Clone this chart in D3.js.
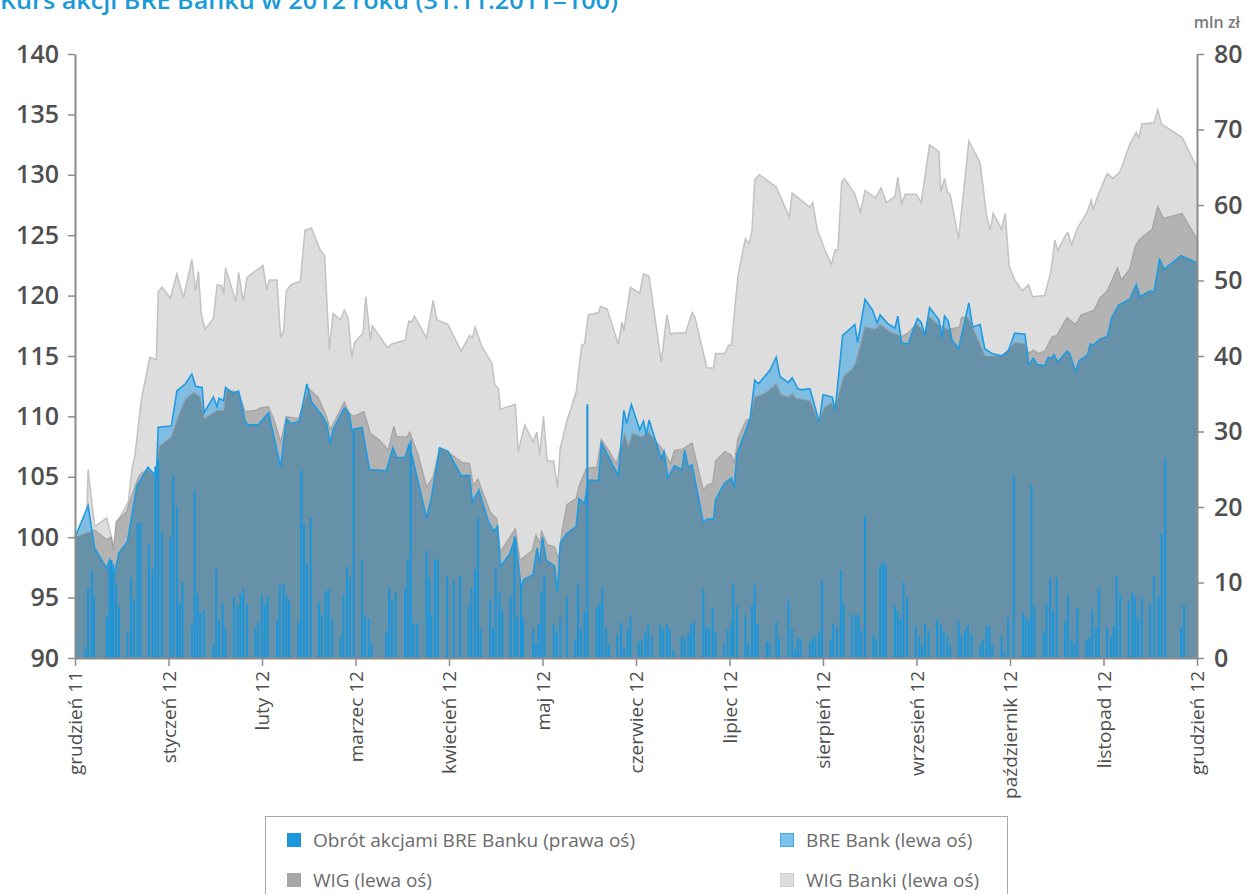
<!DOCTYPE html>
<html>
<head>
<meta charset="utf-8">
<script src="https://cdn.jsdelivr.net/npm/d3@7/dist/d3.min.js"></script>
<style>
body { margin: 0; background: #fff; }
</style>
</head>
<body>
<div id="chart_container"></div>
<script>
var w = 1246, h = 894

var title = "Kurs akcji BRE Banku w 2012 roku (31.11.2011=100)"
var unit_label = "mln zł"
var months = ["grudzień 11", "styczeń 12", "luty 12", "marzec 12", "kwiecień 12", "maj 12",
    "czerwiec 12", "lipiec 12", "sierpień 12", "wrzesień 12", "październik 12", "listopad 12", "grudzień 12"]
var left_ticks = [90, 95, 100, 105, 110, 115, 120, 125, 130, 135, 140]
var right_ticks = [0, 10, 20, 30, 40, 50, 60, 70, 80]
var legend_names = ["Obrót akcjami BRE Banku (prawa oś)", "BRE Bank (lewa oś)", "WIG (lewa oś)", "WIG Banki (lewa oś)"]

// [month since 1 Dec 2011, index value]
var wig_banki = [[0,100.0],[0.12,100.2],[0.14,105.6],[0.21,100.9],[0.34,101.6],[0.39,100.0],[0.41,99.1],[0.46,101.4],
    [0.57,102.9],[0.61,105.7],[0.64,106.7],[0.71,111.4],[0.80,114.9],[0.87,114.7],[0.89,120.3],[0.93,120.7],[1.02,119.8],
    [1.09,121.8],[1.16,119.8],[1.25,123.0],[1.29,120.4],[1.32,122.0],[1.35,118.5],[1.39,117.2],[1.48,118.1],[1.52,120.9],
    [1.57,120.8],[1.59,120.1],[1.61,122.3],[1.72,119.5],[1.75,121.9],[1.80,119.5],[1.84,121.5],[1.94,122.1],[2.01,122.5],
    [2.05,120.5],[2.08,121.3],[2.16,121.3],[2.20,116.5],[2.23,117.1],[2.26,120.4],[2.31,120.9],[2.41,121.2],[2.46,125.4],
    [2.53,125.6],[2.62,123.8],[2.67,123.3],[2.72,115.5],[2.76,118.5],[2.84,118.0],[2.88,118.8],[2.92,118.2],[2.96,114.9],
    [2.99,116.1],[3.08,116.9],[3.11,119.9],[3.16,116.3],[3.18,117.5],[3.34,115.7],[3.39,116.0],[3.53,116.3],[3.57,117.9],
    [3.60,117.8],[3.63,118.3],[3.76,116.5],[3.83,119.6],[3.87,118.0],[3.99,117.6],[4.13,115.4],[4.22,116.7],[4.25,116.5],
    [4.28,117.4],[4.35,115.8],[4.46,114.4],[4.49,112.6],[4.53,112.3],[4.55,110.6],[4.71,111.0],[4.74,107.1],[4.81,109.3],
    [4.90,107.9],[4.94,108.7],[4.97,106.8],[5.01,110.0],[5.05,106.3],[5.12,106.3],[5.16,104.1],[5.19,107.4],[5.26,109.6],
    [5.36,112.0],[5.42,115.9],[5.45,116.0],[5.49,118.4],[5.60,118.6],[5.62,119.1],[5.69,118.9],[5.81,116.0],[5.85,117.8],
    [5.87,117.1],[5.94,120.7],[6.04,120.2],[6.08,121.8],[6.14,121.6],[6.27,114.5],[6.33,118.4],[6.37,116.8],[6.41,116.9],
    [6.53,116.9],[6.60,118.6],[6.63,118.2],[6.76,114.0],[6.83,114.0],[6.85,115.2],[6.95,115.2],[6.99,115.9],[7.02,115.9],
    [7.09,121.6],[7.17,124.7],[7.21,124.3],[7.24,125.3],[7.27,129.6],[7.32,130.0],[7.50,129.0],[7.64,126.5],[7.67,128.5],
    [7.86,127.3],[7.89,127.7],[7.94,125.4],[8.02,123.8],[8.09,122.6],[8.13,123.8],[8.16,123.8],[8.20,129.4],[8.23,129.7],
    [8.34,128.4],[8.40,126.9],[8.45,128.7],[8.56,128.1],[8.62,128.9],[8.68,127.7],[8.77,128.2],[8.80,129.8],[8.84,127.6],
    [8.88,128.4],[9.00,128.4],[9.05,127.7],[9.14,132.5],[9.24,131.9],[9.26,128.6],[9.30,129.7],[9.33,128.6],[9.36,128.4],
    [9.45,124.7],[9.56,132.8],[9.68,131.0],[9.75,126.6],[9.79,125.4],[9.82,126.8],[9.91,125.5],[9.95,126.8],[9.99,122.5],
    [10.05,121.3],[10.13,120.4],[10.20,120.9],[10.24,119.9],[10.37,120.0],[10.44,122.1],[10.48,124.6],[10.51,123.7],
    [10.60,125.1],[10.62,125.2],[10.66,124.2],[10.72,125.6],[10.82,126.8],[10.87,127.9],[10.89,127.1],[10.93,128.1],
    [11.04,130.1],[11.10,129.7],[11.18,130.3],[11.28,132.5],[11.35,133.5],[11.38,133.1],[11.41,134.2],[11.54,134.3],
    [11.58,135.4],[11.62,134.2],[11.84,133.1],[12,130.6]]

var wig = [[0,100.0],[0.21,100.6],[0.34,99.8],[0.39,100.0],[0.41,98.9],[0.44,101.3],[0.55,102.1],[0.59,103.1],[0.68,105.0],
    [0.71,105.3],[0.78,105.6],[0.87,105.1],[0.90,107.5],[1.03,108.3],[1.09,109.7],[1.18,111.4],[1.27,112.0],[1.34,111.6],
    [1.38,109.8],[1.52,110.5],[1.59,110.5],[1.62,112.2],[1.75,112.0],[1.82,110.4],[1.94,110.5],[1.98,110.7],[2.07,110.8],
    [2.13,109.7],[2.20,107.9],[2.26,110.0],[2.39,109.8],[2.50,112.3],[2.60,111.6],[2.69,110.0],[2.73,108.9],[2.88,111.2],
    [2.93,110.3],[2.98,110.0],[3.09,110.4],[3.16,108.6],[3.26,108.0],[3.35,107.2],[3.41,109.2],[3.44,108.3],[3.55,108.3],
    [3.58,108.7],[3.67,106.8],[3.76,104.2],[3.83,105.0],[3.90,107.4],[4.01,106.9],[4.14,106.2],[4.22,106.1],[4.26,104.3],
    [4.31,104.8],[4.44,102.1],[4.51,101.5],[4.55,98.8],[4.71,100.7],[4.76,98.1],[4.89,98.9],[4.93,100.2],[4.97,99.5],
    [4.99,100.5],[5.05,99.4],[5.13,99.2],[5.17,98.2],[5.21,100.6],[5.26,102.7],[5.36,103.2],[5.39,104.2],[5.47,105.7],
    [5.58,105.8],[5.63,108.1],[5.69,107.4],[5.79,106.1],[5.88,108.6],[5.92,107.5],[5.96,108.6],[6.06,108.3],[6.13,108.7],
    [6.26,107.5],[6.30,107.1],[6.37,106.1],[6.41,107.2],[6.50,107.3],[6.54,107.5],[6.60,107.8],[6.72,103.9],[6.76,104.3],
    [6.82,104.5],[6.85,106.3],[6.95,107.1],[7.02,106.8],[7.05,106.1],[7.09,108.2],[7.18,109.7],[7.22,109.8],[7.27,111.6],
    [7.38,111.9],[7.50,112.7],[7.55,111.8],[7.63,111.6],[7.67,111.9],[7.71,111.5],[7.86,111.3],[7.96,109.5],[8.01,110.7],
    [8.09,111.1],[8.13,110.7],[8.22,113.3],[8.31,113.9],[8.35,114.4],[8.45,117.4],[8.56,117.2],[8.61,117.6],[8.72,117.0],
    [8.79,116.8],[8.84,116.6],[8.91,116.9],[9.00,117.7],[9.09,116.9],[9.13,118.3],[9.23,117.6],[9.34,117.2],[9.46,117.4],
    [9.48,118.2],[9.55,118.2],[9.62,117.0],[9.70,115.6],[9.73,115.0],[9.84,115.0],[9.93,115.1],[10.05,116.1],[10.16,116.0],
    [10.20,115.2],[10.25,115.5],[10.30,115.2],[10.37,115.4],[10.45,116.6],[10.50,116.7],[10.61,118.2],[10.70,117.6],
    [10.76,118.4],[10.90,118.8],[10.96,119.8],[11.04,120.4],[11.15,122.3],[11.19,121.3],[11.28,122.2],[11.34,124.1],
    [11.39,124.7],[11.52,125.5],[11.58,127.4],[11.64,126.4],[11.84,126.8],[12,124.7]]

var bre = [[0,100.0],[0.14,102.6],[0.21,99.1],[0.34,97.4],[0.37,98.1],[0.41,96.5],[0.47,98.7],[0.56,99.6],[0.66,104.2],
    [0.78,105.8],[0.87,105.0],[0.89,109.1],[1.03,109.2],[1.09,112.1],[1.18,112.7],[1.25,113.5],[1.29,112.5],[1.36,112.4],
    [1.38,110.3],[1.48,111.6],[1.52,110.8],[1.54,111.5],[1.59,111.3],[1.61,112.4],[1.69,111.9],[1.75,112.1],[1.82,109.6],
    [1.85,109.3],[1.96,109.3],[2.07,110.3],[2.20,105.8],[2.26,109.8],[2.31,109.4],[2.40,109.6],[2.48,112.7],[2.53,111.2],
    [2.64,110.1],[2.69,109.4],[2.73,107.8],[2.76,108.9],[2.88,110.7],[2.93,110.3],[2.96,108.9],[3.07,109.1],[3.15,105.6],
    [3.33,105.5],[3.40,107.4],[3.44,106.6],[3.53,106.6],[3.57,107.6],[3.60,106.9],[3.76,101.6],[3.81,103.2],[3.90,107.4],
    [3.99,107.1],[4.13,105.1],[4.22,105.1],[4.25,102.9],[4.32,103.9],[4.42,101.3],[4.48,100.5],[4.52,100.9],[4.55,97.6],
    [4.65,98.6],[4.71,100.0],[4.77,95.8],[4.80,96.5],[4.90,96.9],[4.94,99.1],[4.97,97.9],[5.00,100.0],[5.04,98.1],
    [5.13,97.6],[5.16,95.4],[5.19,99.5],[5.26,100.3],[5.36,100.9],[5.39,103.2],[5.45,102.8],[5.49,104.7],[5.60,104.7],
    [5.63,107.8],[5.69,106.9],[5.81,105.1],[5.87,110.5],[5.90,109.4],[5.95,111.0],[6.04,108.9],[6.08,109.6],[6.11,108.5],
    [6.14,109.7],[6.27,106.5],[6.30,107.1],[6.34,104.9],[6.41,105.9],[6.49,105.6],[6.52,107.2],[6.56,105.8],[6.60,106.0],
    [6.72,101.2],[6.76,101.5],[6.83,101.5],[6.85,103.1],[6.95,104.5],[7.02,104.9],[7.05,104.1],[7.08,106.9],[7.22,109.8],
    [7.27,113.0],[7.31,112.7],[7.43,113.8],[7.50,114.9],[7.54,113.3],[7.63,112.8],[7.67,113.2],[7.73,112.3],[7.77,112.2],
    [7.86,112.3],[7.96,109.5],[8.00,111.8],[8.10,111.6],[8.13,110.5],[8.21,116.7],[8.27,117.1],[8.34,117.6],[8.37,116.1],
    [8.45,119.7],[8.53,118.8],[8.58,117.7],[8.61,118.4],[8.69,117.7],[8.77,117.3],[8.80,118.3],[8.84,116.1],[8.91,116.0],
    [9.01,118.1],[9.05,117.8],[9.09,116.7],[9.14,119.0],[9.24,118.0],[9.27,116.5],[9.30,118.3],[9.34,117.9],[9.38,116.3],
    [9.45,115.6],[9.56,119.4],[9.60,117.4],[9.68,117.6],[9.73,115.6],[9.81,115.2],[9.91,115.0],[9.98,115.4],[10.05,116.9],
    [10.16,116.8],[10.20,114.3],[10.25,114.8],[10.29,114.3],[10.37,114.2],[10.41,114.9],[10.44,114.8],[10.47,115.1],
    [10.51,114.5],[10.61,115.4],[10.64,115.2],[10.70,113.7],[10.74,114.6],[10.83,115.1],[10.86,116.0],[10.89,115.9],
    [10.96,116.4],[11.04,116.6],[11.09,118.2],[11.16,119.2],[11.28,119.7],[11.35,120.9],[11.39,119.9],[11.50,120.4],
    [11.54,120.3],[11.60,123.0],[11.65,122.2],[11.83,123.3],[12,122.7]]

// [month since 1 Dec 2011, turnover in mln zł]
var obrot = [[0.01,3.1],[0.11,1.2],[0.14,9.3],[0.18,11.5],[0.20,8.4],[0.34,5.6],[0.37,12.1],[0.39,13.0],[0.41,12.4],
    [0.44,9.9],[0.47,6.8],[0.56,3.4],[0.60,10.6],[0.63,7.7],[0.67,17.9],[0.70,17.9],[0.79,15.2],[0.83,11.8],[0.86,25.4],
    [0.89,26.2],[0.93,16.6],[1.02,16.0],[1.05,24.2],[1.09,20.1],[1.12,7.3],[1.15,10.0],[1.25,4.4],[1.28,22.2],[1.31,8.5],
    [1.34,6.0],[1.38,6.3],[1.48,1.8],[1.51,11.9],[1.54,5.0],[1.58,7.2],[1.61,4.1],[1.70,8.1],[1.74,6.9],[1.77,8.5],
    [1.80,9.1],[1.84,7.1],[1.93,4.0],[1.96,4.7],[2.00,8.4],[2.03,6.9],[2.06,8.1],[2.16,5.0],[2.19,9.7],[2.23,9.8],
    [2.26,8.3],[2.29,7.7],[2.39,4.7],[2.42,24.9],[2.45,17.7],[2.48,12.4],[2.52,18.5],[2.61,7.4],[2.64,5.7],[2.68,8.8],
    [2.71,9.1],[2.75,5.2],[2.84,2.8],[2.87,8.4],[2.91,12.1],[2.94,10.7],[2.98,30.2],[3.07,13.1],[3.10,5.5],[3.14,5.3],
    [3.17,1.9],[3.33,3.5],[3.36,9.3],[3.39,7.7],[3.43,8.7],[3.53,9.1],[3.56,13.1],[3.59,28.8],[3.62,4.6],[3.66,4.6],
    [3.76,14.3],[3.79,10.6],[3.81,5.7],[3.85,13.1],[3.88,13.0],[3.98,10.8],[4.05,10.2],[4.12,10.9],[4.21,6.9],[4.24,9.3],
    [4.28,11.7],[4.31,18.5],[4.34,3.8],[4.44,7.7],[4.47,3.8],[4.50,11.9],[4.54,8.7],[4.57,6.3],[4.66,8.3],[4.70,16.1],
    [4.73,5.6],[4.77,9.8],[4.79,5.2],[4.90,3.8],[4.93,1.9],[4.96,4.5],[4.99,8.7],[5.02,10.9],[5.12,4.5],[5.15,3.5],
    [5.19,5.4],[5.26,8.1],[5.35,2.5],[5.38,9.8],[5.41,3.8],[5.45,6.2],[5.48,33.6],[5.58,6.6],[5.61,7.3],[5.64,9.3],
    [5.68,4.0],[5.71,1.8],[5.80,3.1],[5.84,4.7],[5.87,1.3],[5.91,3.8],[5.94,5.6],[6.03,2.2],[6.06,2.3],[6.10,3.3],
    [6.13,4.4],[6.17,2.9],[6.26,4.5],[6.29,3.7],[6.33,4.6],[6.36,3.9],[6.40,1.1],[6.49,2.9],[6.52,2.6],[6.56,3.2],
    [6.59,4.5],[6.62,4.8],[6.72,9.1],[6.75,4.1],[6.78,4.1],[6.82,6.7],[6.85,3.4],[6.94,1.9],[6.98,3.8],[7.02,4.7],
    [7.04,9.8],[7.08,6.9],[7.17,5.7],[7.20,1.9],[7.24,6.9],[7.27,9.7],[7.30,4.5],[7.40,2.2],[7.43,2.0],[7.50,4.8],
    [7.53,2.6],[7.63,7.6],[7.67,3.8],[7.70,1.1],[7.73,2.7],[7.76,2.5],[7.86,2.2],[7.89,2.5],[7.92,2.9],[7.96,3.6],
    [7.99,10.2],[8.08,2.3],[8.11,4.6],[8.15,4.0],[8.19,11.6],[8.22,7.2],[8.31,5.8],[8.35,5.7],[8.38,5.7],[8.41,3.6],
    [8.45,18.9],[8.54,3.1],[8.57,2.4],[8.61,12.1],[8.64,12.7],[8.67,12.4],[8.77,6.9],[8.80,6.3],[8.83,5.1],[8.86,10.0],
    [8.90,8.0],[8.99,4.2],[9.03,2.8],[9.06,1.5],[9.09,4.6],[9.13,3.6],[9.22,5.1],[9.26,4.4],[9.29,3.4],[9.33,3.0],
    [9.36,1.7],[9.45,4.9],[9.48,2.9],[9.52,3.7],[9.55,4.4],[9.59,3.1],[9.68,1.7],[9.71,2.4],[9.75,4.3],[9.78,4.1],
    [9.81,1.8],[9.91,2.8],[9.94,0.7],[9.98,5.4],[10.04,24.0],[10.14,6.1],[10.17,5.3],[10.20,5.1],[10.23,22.8],
    [10.26,6.9],[10.36,3.5],[10.39,7.2],[10.43,10.6],[10.46,6.2],[10.50,10.7],[10.59,4.9],[10.62,8.3],[10.66,2.5],
    [10.69,1.8],[10.72,6.6],[10.82,2.4],[10.85,2.7],[10.88,6.4],[10.92,4.0],[10.95,9.1],[11.04,4.1],[11.08,2.8],
    [11.11,4.3],[11.14,10.9],[11.18,8.5],[11.27,7.7],[11.31,8.8],[11.34,8.0],[11.37,5.4],[11.41,7.9],[11.50,7.2],
    [11.54,10.8],[11.59,8.2],[11.62,16.5],[11.66,26.5],[11.83,4.0],[11.86,7.0]]

var colors = {
    obrot: "#1b96da",
    bre_fill: "#80bde2",
    bre_line: "#1e9be0",
    overlap: "#6791a9",
    wig_fill: "#b3b3b3",
    wig_line: "#9a9a9a",
    banki_fill: "#dddddd",
    banki_line: "#c2c2c2"
}

var margin = {left: 75, right: 49, top: 54, bottom: 236}

var x = d3.scaleLinear().domain([0, 12]).range([margin.left, w - margin.right])
var y_left = d3.scaleLinear().domain([90, 140]).range([h - margin.bottom, margin.top])
var y_right = d3.scaleLinear().domain([0, 80]).range([h - margin.bottom, margin.top])

var svg = d3.select("#chart_container")
    .append("svg")
    .attr("width", w)
    .attr("height", h)
    .style("font-family", "'Open Sans', 'Noto Sans', sans-serif")

// title is partly above the page edge, as in the source
svg.append("text")
    .attr("x", 0)
    .attr("y", 9)
    .attr("fill", "#1a9ad6")
    .style("font-size", "23px")
    .style("font-weight", 600)
    .attr("textLength", 618)
    .attr("lengthAdjust", "spacingAndGlyphs")
    .text(title)

var area = d3.area()
    .x(function(d) { return x(d[0]) })
    .y0(y_left(90))
    .y1(function(d) { return y_left(d[1]) })

var line = d3.line()
    .x(function(d) { return x(d[0]) })
    .y(function(d) { return y_left(d[1]) })

svg.append("clipPath")
    .attr("id", "wig_clip")
    .append("path")
    .attr("d", area(wig))

var plot = svg.append("g").attr("id", "plot_canvas")

plot.append("path").attr("d", area(wig_banki)).attr("fill", colors.banki_fill)
plot.append("path").attr("d", line(wig_banki)).attr("fill", "none")
    .attr("stroke", colors.banki_line).attr("stroke-width", 1.5)
plot.append("path").attr("d", area(wig)).attr("fill", colors.wig_fill)
plot.append("path").attr("d", area(bre)).attr("fill", colors.bre_fill)
plot.append("path").attr("d", area(bre)).attr("fill", colors.overlap)
    .attr("clip-path", "url(#wig_clip)")
plot.append("path").attr("d", line(wig)).attr("fill", "none")
    .attr("stroke", colors.wig_line).attr("stroke-width", 1.2).style("opacity", 0.8)
plot.append("path").attr("d", line(bre)).attr("fill", "none")
    .attr("stroke", colors.bre_line).attr("stroke-width", 1.6)

plot.selectAll(".obrot_bar").data(obrot)
    .enter()
    .append("rect")
    .attr("class", "obrot_bar")
    .attr("x", function(d) { return x(d[0]) - 1 })
    .attr("width", 2)
    .attr("y", function(d) { return y_right(d[1]) })
    .attr("height", function(d) { return y_right(0) - y_right(d[1]) })
    .attr("fill", colors.obrot)

function style_axis(g) {
    g.attr("font-family", null)
    g.select(".domain").attr("stroke", "#8c8c8c").attr("stroke-width", 2)
    g.selectAll(".tick line").attr("stroke", "#8c8c8c").attr("stroke-width", 1.5)
    g.selectAll("text").attr("fill", "#4f4f4f")
}

var left_axis = svg.append("g")
    .attr("transform", "translate(" + margin.left + ",0)")
    .call(d3.axisLeft(y_left).tickValues(left_ticks).tickSize(7).tickSizeOuter(0).tickPadding(9))
    .call(style_axis)
left_axis.selectAll("text").style("font-size", "25px").style("font-weight", 600)

var right_axis = svg.append("g")
    .attr("transform", "translate(" + (w - margin.right) + ",0)")
    .call(d3.axisRight(y_right).tickValues(right_ticks).tickSize(7).tickSizeOuter(0).tickPadding(10))
    .call(style_axis)
right_axis.selectAll("text").style("font-size", "25px").style("font-weight", 600)

svg.append("text")
    .attr("x", 1240)
    .attr("y", 28)
    .attr("text-anchor", "end")
    .attr("fill", "#7a7a7a")
    .style("font-size", "16px")
    .style("font-weight", 600)
    .text(unit_label)

var bottom_axis = svg.append("g")
    .attr("transform", "translate(0," + (h - margin.bottom) + ")")
    .call(d3.axisBottom(x).tickValues(d3.range(13)).tickFormat(function(i) { return months[i] })
        .tickSize(8).tickSizeOuter(0))
    .call(style_axis)
bottom_axis.selectAll("text")
    .attr("transform", "rotate(-90)")
    .attr("text-anchor", "end")
    .attr("x", -13)
    .attr("y", 0)
    .attr("dy", "0.35em")
    .style("font-size", "19px")

// legend
var legend = svg.append("g").attr("id", "legend")
legend.append("rect")
    .attr("x", 265.5).attr("y", 816.5)
    .attr("width", 742).attr("height", 100)
    .attr("fill", "none").attr("stroke", "#a8a8a8").attr("stroke-width", 1)

var legend_swatches = [
    {fill: colors.obrot, stroke: colors.obrot},
    {fill: "#7cc3ec", stroke: "#3ea9e4"},
    {fill: "#a6a6a6", stroke: "#a6a6a6"},
    {fill: "#dedede", stroke: "#cccccc"}
]
var legend_pos = [[287, 840], [780, 840], [287, 880], [780, 880]]

var items = legend.selectAll(".legend_item").data(legend_names)
    .enter()
    .append("g")
    .attr("class", "legend_item")
    .attr("transform", function(d, i) { return "translate(" + legend_pos[i][0] + "," + legend_pos[i][1] + ")" })

items.append("rect")
    .attr("x", 0.5).attr("y", -6.5)
    .attr("width", 13).attr("height", 13)
    .attr("fill", function(d, i) { return legend_swatches[i].fill })
    .attr("stroke", function(d, i) { return legend_swatches[i].stroke })

items.append("text")
    .attr("x", 26)
    .attr("dy", "0.35em")
    .attr("fill", "#6b6b6b")
    .style("font-size", "19px")
    .text(function(d) { return d })
</script>
</body>
</html>
